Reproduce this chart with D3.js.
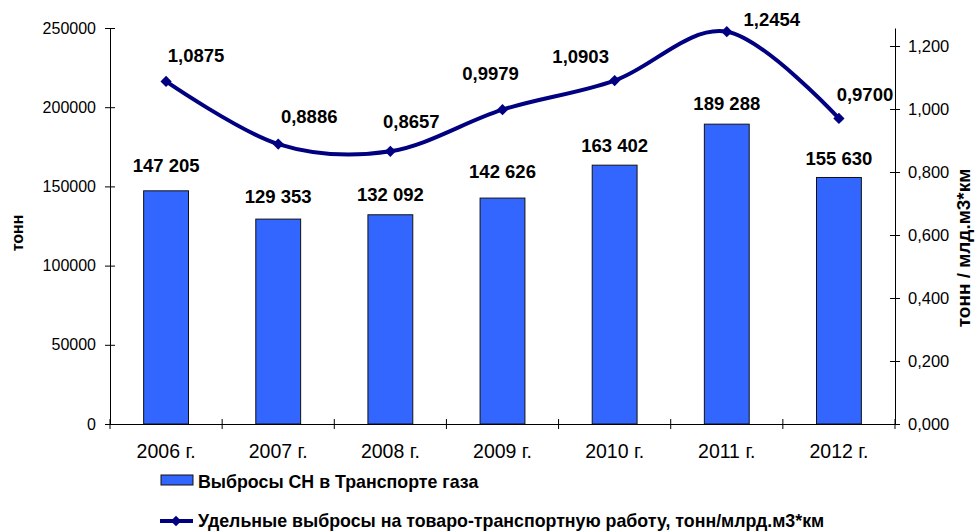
<!DOCTYPE html>
<html>
<head>
<meta charset="utf-8">
<script src="https://cdn.jsdelivr.net/npm/d3@7"></script>
<style>
  body { margin: 0; background: #fff; }
  svg { display: block; font-family: Arial, "Liberation Sans", sans-serif; }
  .axis path, .axis line { stroke: #000; stroke-width: 1; }
  .axis text { fill: #000; }
</style>
</head>
<body>
<svg id="chart" width="976" height="531"></svg>
<script>
// data
const years = ["2006 г.", "2007 г.", "2008 г.", "2009 г.", "2010 г.", "2011 г.", "2012 г."];
const emissions = [147205, 129353, 132092, 142626, 163402, 189288, 155630];
const specific = [1.0875, 0.8886, 0.8657, 0.9979, 1.0903, 1.2454, 0.9700];
const leftTicks = [0, 50000, 100000, 150000, 200000, 250000];
const rightTicks = [0, 0.2, 0.4, 0.6, 0.8, 1.0, 1.2];

// label nudges (pixels), as placed on the original
const barLabelGap = [19, 16, 14, 20, 13, 14, 12];
const lineLabelDx = [30, 31, 21, -12, -34, 45, 26];
const lineLabelDy = [-19, -21, -23, -30, -18, -6, -17];

const svg = d3.select("#chart");
const plotL = 110, plotR = 895, plotT = 28, plotB = 424;

const x = d3.scaleBand().domain(years).range([plotL, plotR]).paddingInner(0.6).paddingOuter(0.3);
const xOuter = d3.scaleBand().domain(years).range([plotL, plotR]);
const y = d3.scaleLinear().domain([0, 250000]).range([plotB, plotT]);
const y2 = d3.scaleLinear().domain([0, 1.2 * (plotB - plotT) / 378]).range([plotB, plotT]);

const fmtSpace = d => d3.format(",")(d).replace(/,/g, " ");
const fmtComma = d => d3.format(".4f")(d).replace(".", ",");

// bars
svg.append("g").selectAll("rect")
  .data(emissions)
  .join("rect")
  .attr("x", (d, i) => x(years[i]))
  .attr("y", d => y(d))
  .attr("width", x.bandwidth())
  .attr("height", d => plotB - y(d))
  .attr("fill", "#3366ff")
  .attr("stroke", "#111")
  .attr("stroke-width", 1);

// axes
const gLeft = svg.append("g").attr("class", "axis")
  .attr("transform", `translate(${plotL},0)`)
  .call(d3.axisLeft(y).tickValues(leftTicks).tickFormat(d3.format("d")).tickSize(5).tickPadding(9).tickSizeOuter(0));
gLeft.selectAll(".tick line").attr("x1", -5).attr("x2", 5);
gLeft.selectAll("text").style("font-size", "16px");

const gRight = svg.append("g").attr("class", "axis")
  .attr("transform", `translate(${plotR},0)`)
  .call(d3.axisRight(y2).tickValues(rightTicks).tickFormat(d => d3.format(".3f")(d).replace(".", ",")).tickSize(5).tickPadding(8).tickSizeOuter(0));
gRight.selectAll(".tick line").attr("x1", -5).attr("x2", 5);
gRight.selectAll("text").style("font-size", "16.5px");

const gBottom = svg.append("g").attr("class", "axis")
  .attr("transform", `translate(0,${plotB})`)
  .call(d3.axisBottom(xOuter).tickSize(0).tickPadding(20).tickSizeOuter(0));
gBottom.selectAll("text").style("font-size", "19.5px");
gBottom.selectAll(".tick line").remove();
gBottom.selectAll(".edge")
  .data(d3.range(years.length + 1))
  .join("line")
  .attr("class", "edge")
  .attr("x1", i => plotL + i * xOuter.step())
  .attr("x2", i => plotL + i * xOuter.step())
  .attr("y1", -5).attr("y2", 5)
  .attr("stroke", "#000");

// bar labels
svg.append("g").selectAll("text")
  .data(emissions)
  .join("text")
  .attr("x", (d, i) => x(years[i]) + x.bandwidth() / 2)
  .attr("y", (d, i) => y(d) - barLabelGap[i])
  .attr("text-anchor", "middle")
  .style("font-size", "18.5px")
  .style("font-weight", "bold")
  .text(fmtSpace);

// smoothed line
const cx = i => xOuter(years[i]) + xOuter.bandwidth() / 2;
const line = d3.line()
  .x((d, i) => cx(i))
  .y(d => y2(d))
  .curve(d3.curveCatmullRom.alpha(0));

svg.append("path")
  .datum(specific)
  .attr("d", line)
  .attr("fill", "none")
  .attr("stroke", "#000080")
  .attr("stroke-width", 4);

svg.append("g").selectAll("path")
  .data(specific)
  .join("path")
  .attr("d", d3.symbol(d3.symbolDiamond2, 80))
  .attr("transform", (d, i) => `translate(${cx(i)},${y2(d)})`)
  .attr("fill", "#000080");

svg.append("g").selectAll("text")
  .data(specific)
  .join("text")
  .attr("x", (d, i) => cx(i) + lineLabelDx[i])
  .attr("y", (d, i) => y2(d) + lineLabelDy[i])
  .attr("text-anchor", "middle")
  .style("font-size", "18.5px")
  .style("font-weight", "bold")
  .text(fmtComma);

// axis titles
svg.append("text")
  .attr("transform", "translate(23,233) rotate(-90)")
  .attr("text-anchor", "middle")
  .style("font-size", "16px").style("font-weight", "bold")
  .text("тонн");
svg.append("text")
  .attr("transform", "translate(970,248) rotate(-90)")
  .attr("text-anchor", "middle")
  .style("font-size", "19px").style("font-weight", "bold")
  .text("тонн / млд.м3*км");

// legend
const lg = svg.append("g");
lg.append("rect").attr("x", 161).attr("y", 475).attr("width", 32).attr("height", 10)
  .attr("fill", "#3366ff").attr("stroke", "#111");
lg.append("text").attr("x", 198).attr("y", 488)
  .style("font-size", "17.8px").style("font-weight", "bold")
  .text("Выбросы СН в Транспорте газа");
lg.append("line").attr("x1", 160).attr("x2", 193).attr("y1", 521).attr("y2", 521)
  .attr("stroke", "#000080").attr("stroke-width", 4);
lg.append("path").attr("d", d3.symbol(d3.symbolDiamond2, 70))
  .attr("transform", "translate(176,521)").attr("fill", "#000080");
lg.append("text").attr("x", 198).attr("y", 527)
  .style("font-size", "17.8px").style("font-weight", "bold")
  .text("Удельные выбросы на товаро-транспортную работу, тонн/млрд.м3*км");
</script>
</body>
</html>
